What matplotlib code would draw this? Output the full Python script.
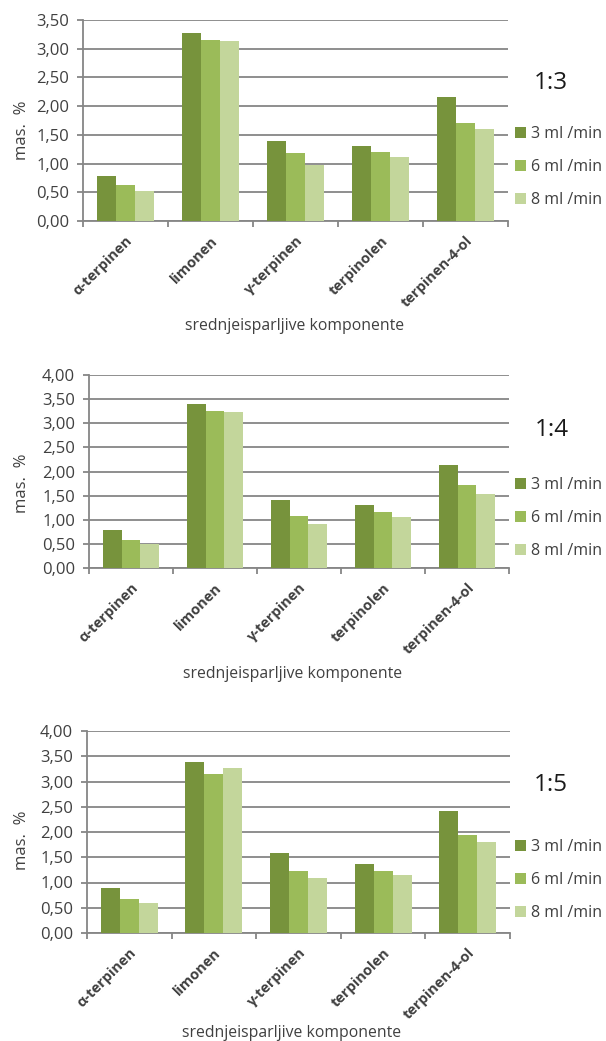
import matplotlib
matplotlib.use("Agg")
import matplotlib.pyplot as plt
import numpy as np
from matplotlib.patches import Patch

plt.rcParams['font.family'] = ['Open Sans', 'DejaVu Sans']

components = ["α-terpinen", "limonen", "γ-terpinen", "terpinolen", "terpinen-4-ol"]
flow_labels = ["3 ml /min", "6 ml /min", "8 ml /min"]
ratios = ["1:3", "1:4", "1:5"]

# mass % per component for 3, 6 and 8 ml/min
ratio_13 = [
    [0.79, 3.27, 1.40, 1.31, 2.16],
    [0.62, 3.15, 1.19, 1.21, 1.70],
    [0.52, 3.13, 0.98, 1.12, 1.60],
]
ratio_14 = [
    [0.78, 3.39, 1.40, 1.31, 2.13],
    [0.59, 3.26, 1.07, 1.16, 1.72],
    [0.50, 3.24, 0.91, 1.06, 1.53],
]
ratio_15 = [
    [0.90, 3.38, 1.58, 1.37, 2.42],
    [0.67, 3.14, 1.22, 1.23, 1.94],
    [0.60, 3.26, 1.09, 1.14, 1.81],
]
y_max = [3.5, 4.0, 4.0]

colors = ["#77933C", "#9BBB59", "#C3D69B"]
text_col = "#404040"
grid_col = "#868686"

W, H = 606, 1041
fig = plt.figure(figsize=(W / 100, H / 100), dpi=100)

# panel boxes in pixels: left, right, top, bottom
boxes = [(83, 508, 20, 221), (89, 509, 375, 568), (87, 510, 731, 933)]
ratio_pos = [(551, 83), (552, 430), (551, 785)]
legend_center = [167, 518, 880]
xlabel_pos = [(295, 326), (293, 674), (292, 1033)]
ylabel_pos = [(22, 130), (22, 483), (22, 840)]

datasets = [ratio_13, ratio_14, ratio_15]
x = np.arange(len(components))
bw = 0.224

for k, data in enumerate(datasets):
    l, r, t, b = boxes[k]
    ax = fig.add_axes([l / W, 1 - b / H, (r - l) / W, (b - t) / H])
    for i, vals in enumerate(data):
        ax.bar(x + (i - 1) * bw, vals, width=bw, color=colors[i],
               label=flow_labels[i], zorder=3)
    ax.set_xlim(-0.5, len(components) - 0.5)
    ax.set_ylim(0, y_max[k])
    yt = np.arange(0, y_max[k] + 0.01, 0.5)
    ax.set_yticks(yt)
    ax.set_yticklabels([f"{v:.2f}".replace(".", ",") for v in yt],
                       fontsize=12, color=text_col)
    ax.yaxis.grid(True, color=grid_col, linewidth=1.3, zorder=0)
    ax.set_xticks(np.arange(-0.5, len(components), 1.0))
    ax.set_xticklabels([])
    ax.set_xticks(x, minor=True)
    ax.set_xticklabels(components, minor=True, rotation=45, ha="right",
                       va="top", rotation_mode="anchor", fontsize=10.5,
                       fontweight="bold", color=text_col)
    ax.tick_params(axis="x", which="minor", length=0, pad=9)
    ax.tick_params(axis="x", which="major", length=4, color=grid_col, width=1.3)
    ax.tick_params(axis="y", length=4, color=grid_col, width=1.3, pad=6)
    for s in ("top", "right"):
        ax.spines[s].set_visible(False)
    for s in ("left", "bottom"):
        ax.spines[s].set_color(grid_col)
        ax.spines[s].set_linewidth(1.3)

    fig.text(ratio_pos[k][0] / W, 1 - ratio_pos[k][1] / H, ratios[k],
             fontsize=17.5, color="#1a1a1a", ha="center", va="center")
    fig.text(xlabel_pos[k][0] / W, 1 - xlabel_pos[k][1] / H,
             "srednjeisparljive komponente", fontsize=11.3, color=text_col,
             ha="center", va="center")
    fig.text(ylabel_pos[k][0] / W, 1 - ylabel_pos[k][1] / H, "mas.  %",
             fontsize=12, color=text_col, ha="center", va="center",
             rotation=90)
    handles = [Patch(facecolor=c) for c in colors]
    fig.legend(handles, flow_labels, loc="center left",
               bbox_to_anchor=(515 / W, 1 - legend_center[k] / H),
               frameon=False, fontsize=11.5, handlelength=0.7,
               handleheight=0.7, handletextpad=0.3, labelspacing=1.05,
               borderpad=0, borderaxespad=0, labelcolor=text_col)

fig.savefig("out.png", dpi=100, facecolor="white")
